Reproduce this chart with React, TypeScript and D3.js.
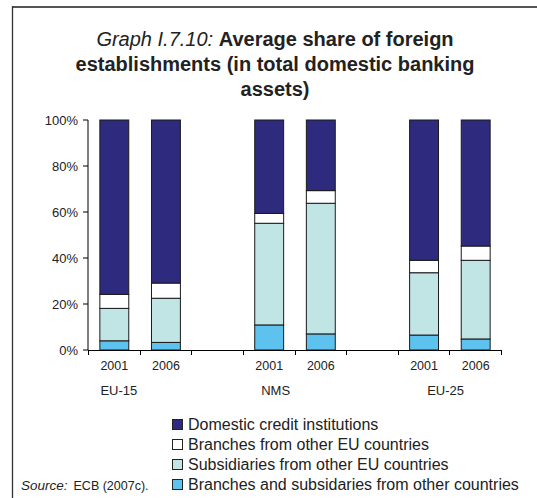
import { useEffect, useRef } from 'react'
import * as d3 from 'd3'

// categories (slots include empty gaps between groups)
const slots = ['EU-15|2001', 'EU-15|2006', 'gap1', 'NMS|2001', 'NMS|2006', 'gap2', 'EU-25|2001', 'EU-25|2006']
const barSlots = ['EU-15|2001', 'EU-15|2006', 'NMS|2001', 'NMS|2006', 'EU-25|2001', 'EU-25|2006']
const years = ['2001', '2006', '2001', '2006', '2001', '2006']
const groups = ['EU-15', 'NMS', 'EU-25']

// series values (% of total domestic banking assets), bottom to top
const otherCountries = [4.0, 3.3, 10.9, 7.0, 6.5, 4.8]
const subsidiariesEU = [14.1, 19.2, 44.2, 56.8, 27.1, 34.2]
const branchesEU = [6.1, 6.6, 4.3, 5.5, 5.4, 6.2]
const domestic = [75.8, 70.9, 40.6, 30.7, 61.0, 54.8]

const yTicks = [0, 20, 40, 60, 80, 100]

const SERIES = [
  { key: 'other', name: 'Branches and subsidaries from other countries', values: otherCountries, color: '#5DC2EE' },
  { key: 'subs', name: 'Subsidiaries from other EU countries', values: subsidiariesEU, color: '#C1E4E5' },
  { key: 'branches', name: 'Branches from other EU countries', values: branchesEU, color: '#FFFFFF' },
  { key: 'domestic', name: 'Domestic credit institutions', values: domestic, color: '#2E2A7E' },
]

const FONT = '"Liberation Sans", Arial, Helvetica, sans-serif'

export default function App() {
  const svgRef = useRef<SVGSVGElement>(null)

  useEffect(() => {
    if (!svgRef.current) return
    const svg = d3.select(svgRef.current)
    svg.selectAll('*').remove()

    const W = 537
    const H = 498
    const margin = { top: 120, left: 88, right: 36, bottom: 148 }
    const x0 = margin.left
    const x1 = W - margin.right
    const y0 = H - margin.bottom
    const y1 = margin.top

    svg.append('rect').attr('width', W).attr('height', H).attr('fill', '#fff')

    // frame
    svg.append('line').attr('x1', 12).attr('x2', W).attr('y1', 7).attr('y2', 7)
      .attr('stroke', '#555').attr('stroke-width', 2)
    svg.append('line').attr('x1', 12.5).attr('x2', 12.5).attr('y1', 6).attr('y2', H)
      .attr('stroke', '#333').attr('stroke-width', 1.3)

    // title
    const tx = 275
    const title = svg.append('text').attr('x', tx).attr('y', 46)
      .attr('text-anchor', 'middle').attr('font-family', FONT).attr('font-size', '20px').attr('fill', '#222')
    title.append('tspan').attr('font-style', 'italic').text('Graph I.7.10: ')
    title.append('tspan').attr('font-weight', 'bold').text('Average share of foreign')
    svg.append('text').attr('x', tx).attr('y', 71)
      .attr('text-anchor', 'middle').attr('font-family', FONT).attr('font-size', '20px')
      .attr('font-weight', 'bold').attr('fill', '#222').text('establishments (in total domestic banking')
    svg.append('text').attr('x', tx).attr('y', 96)
      .attr('text-anchor', 'middle').attr('font-family', FONT).attr('font-size', '20px')
      .attr('font-weight', 'bold').attr('fill', '#222').text('assets)')

    const x = d3.scaleBand<string>().domain(slots).range([x0, x1]).paddingInner(0.44).paddingOuter(0.22)
    const y = d3.scaleLinear().domain([0, 100]).range([y0, y1])

    // stacked bars
    const rows = barSlots.map((s, i) => {
      const r: Record<string, number | string> = { slot: s }
      SERIES.forEach(se => { r[se.key] = se.values[i] })
      return r
    })
    const stack = d3.stack<Record<string, number | string>>().keys(SERIES.map(s => s.key))
      .value((d, k) => d[k] as number)
    const layers = stack(rows)

    layers.forEach((layer, li) => {
      svg.append('g').selectAll('rect').data(layer).enter().append('rect')
        .attr('x', d => (x(d.data.slot as string) ?? 0) + 0.5)
        .attr('y', d => y(d[1]))
        .attr('width', x.bandwidth())
        .attr('height', d => y(d[0]) - y(d[1]))
        .attr('fill', SERIES[li].color)
        .attr('stroke', '#1a1a1a').attr('stroke-width', 1)
    })

    // y axis
    const yAxis = svg.append('g').attr('transform', `translate(${x0},0)`)
    yAxis.append('line').attr('x1', 0).attr('x2', 0).attr('y1', y1).attr('y2', y0)
      .attr('stroke', '#000').attr('stroke-width', 1)
    yTicks.forEach(t => {
      yAxis.append('line').attr('x1', -5).attr('x2', 0).attr('y1', y(t)).attr('y2', y(t))
        .attr('stroke', '#000')
      yAxis.append('text').attr('x', -10).attr('y', y(t)).attr('dy', '0.35em')
        .attr('text-anchor', 'end').attr('font-family', FONT).attr('font-size', '13px')
        .attr('fill', '#222').text(`${t}%`)
    })

    // x axis
    const xAxis = svg.append('g')
    xAxis.append('line').attr('x1', x0).attr('x2', x1).attr('y1', y0 + 0.5).attr('y2', y0 + 0.5)
      .attr('stroke', '#000')
    const step = x.step()
    d3.range(slots.length + 1).forEach(i => {
      const px = Math.round(x0 + i * step) + 0.5
      xAxis.append('line').attr('x1', px).attr('x2', px).attr('y1', y0).attr('y2', y0 + 5)
        .attr('stroke', '#000')
    })
    barSlots.forEach((s, i) => {
      xAxis.append('text').attr('x', (x(s) ?? 0) + x.bandwidth() / 2 + 0.5).attr('y', y0 + 20)
        .attr('text-anchor', 'middle').attr('font-family', FONT).attr('font-size', '12.5px')
        .attr('fill', '#222').text(years[i])
    })
    // group labels (as placed in the source, left of the pair centre)
    const groupShift = [5, 7, 22]
    groups.forEach((g, i) => {
      const s = barSlots[i * 2]
      xAxis.append('text').attr('x', (x(s) ?? 0) + x.bandwidth() / 2 + groupShift[i]).attr('y', y0 + 45)
        .attr('text-anchor', 'middle').attr('font-family', FONT).attr('font-size', '13px')
        .attr('fill', '#222').text(g)
    })

    // legend
    const legendOrder = [...SERIES].reverse()
    const lg = svg.append('g').attr('transform', 'translate(172,430)')
    legendOrder.forEach((s, i) => {
      const ly = i * 20
      lg.append('rect').attr('x', 0.5).attr('y', ly - 10.5).attr('width', 10).attr('height', 10)
        .attr('fill', s.color).attr('stroke', '#222').attr('stroke-width', 1)
      lg.append('text').attr('x', 16).attr('y', ly).attr('font-family', FONT).attr('font-size', '16px')
        .attr('fill', '#222').text(s.name)
    })

    // source
    const src = svg.append('text').attr('x', 21).attr('y', 490).attr('font-family', FONT).attr('fill', '#222')
    src.append('tspan').attr('font-style', 'italic').attr('font-size', '13.5px').text('Source:')
    src.append('tspan').attr('dx', 6).attr('font-size', '12.5px').text('ECB (2007c).')
  }, [])

  return (
    <svg ref={svgRef} width={537} height={498}
      style={{ position: 'absolute', left: 0, top: 0, display: 'block' }} />
  )
}
